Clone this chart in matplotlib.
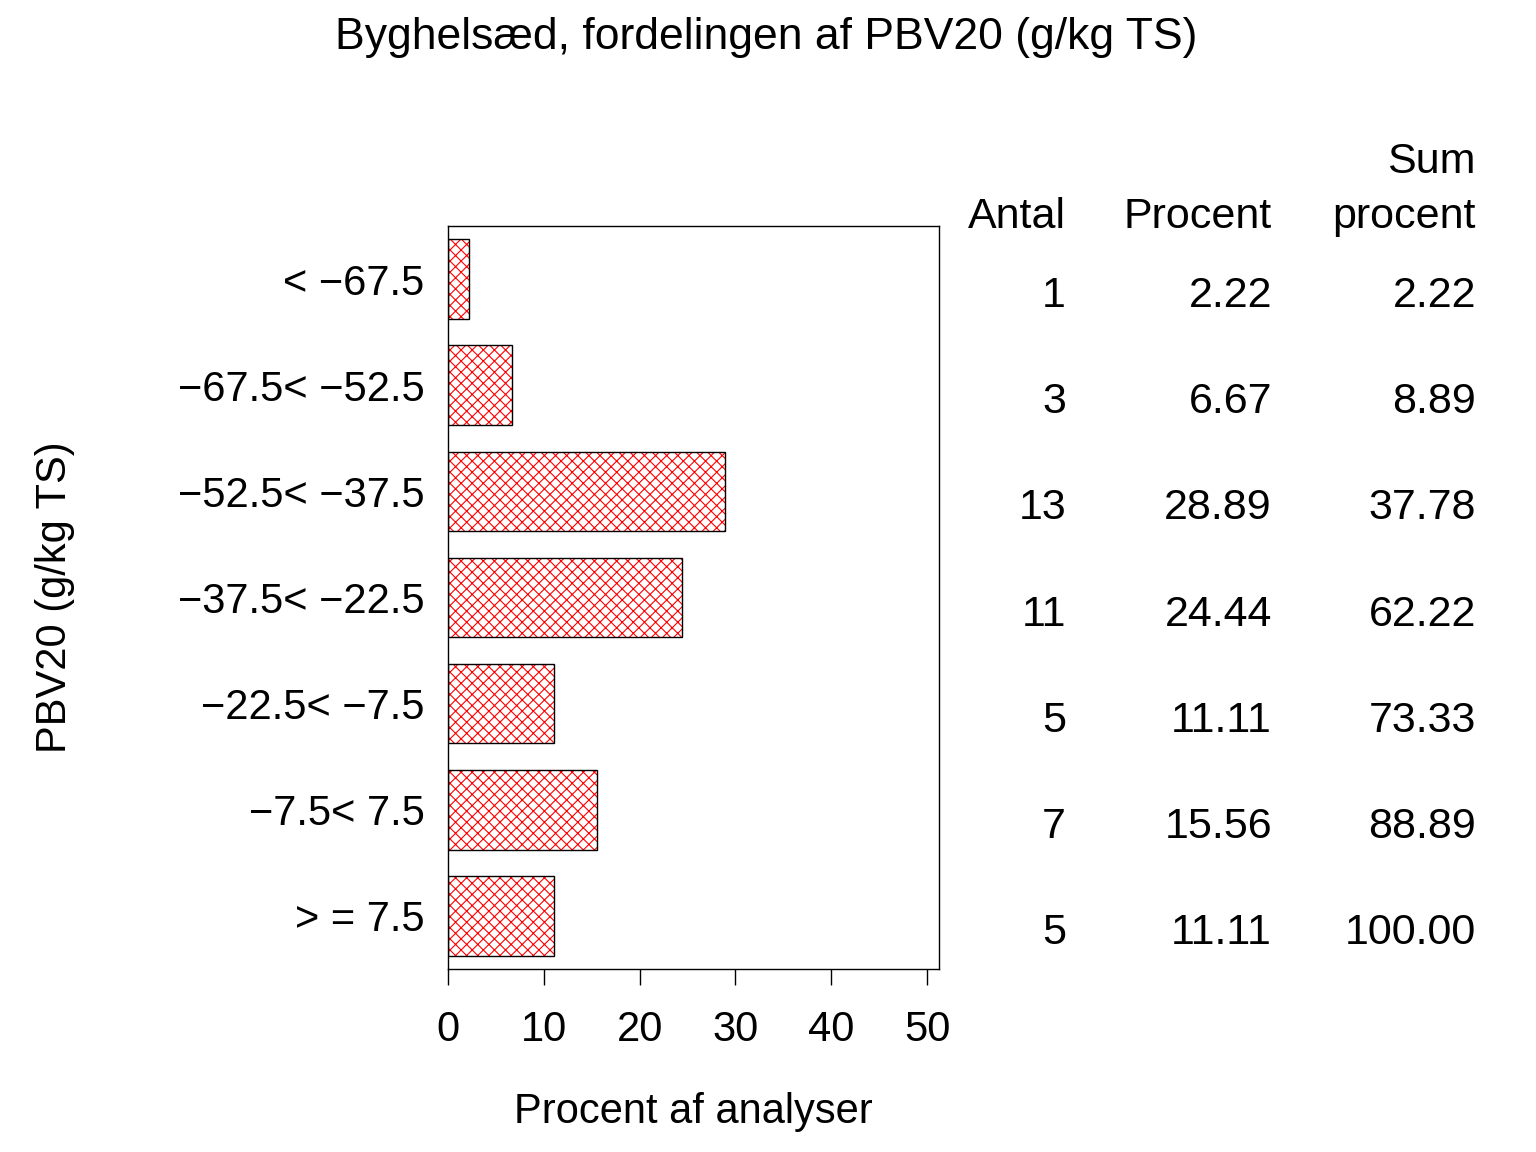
import matplotlib
matplotlib.use("Agg")
import matplotlib.pyplot as plt
from matplotlib.transforms import blended_transform_factory, offset_copy

plt.rcParams['font.family'] = ['Liberation Sans', 'DejaVu Sans']
plt.rcParams['hatch.linewidth'] = 0.8

title = "Byghelsæd, fordelingen af PBV20 (g/kg TS)"
categories = ["< \u221267.5", "\u221267.5< \u221252.5", "\u221252.5< \u221237.5",
              "\u221237.5< \u221222.5", "\u221222.5< \u22127.5", "\u22127.5< 7.5", "> = 7.5"]
antal = [1, 3, 13, 11, 5, 7, 5]
procent = [2.22, 6.67, 28.89, 24.44, 11.11, 15.56, 11.11]
sum_procent = [2.22, 8.89, 37.78, 62.22, 73.33, 88.89, 100.00]
x_ticks = [0, 10, 20, 30, 40, 50]
col_headers_top = ["", "", "Sum"]
col_headers = ["Antal", "Procent", "procent"]
xlabel = "Procent af analyser"
ylabel = "PBV20 (g/kg TS)"

W, H = 1536, 1152
fig = plt.figure(figsize=(W / 100, H / 100), dpi=100)
ax = fig.add_axes([448 / W, 1 - 969 / H, (939 - 448) / W, (969 - 226) / H])

pos = list(range(len(categories)))
ax.barh(pos, procent, height=0.75, color='white', edgecolor='red', hatch='xxx', linewidth=0)
ax.barh(pos, procent, height=0.75, fill=False, edgecolor='black', linewidth=1.0)

ax.set_ylim(6.5, -0.5)
ax.set_xlim(0, 51.25)
ax.set_xticks(x_ticks)
ax.set_xticklabels([str(t) for t in x_ticks], fontsize=30)
ax.set_yticks(pos)
ax.set_yticklabels(categories, fontsize=30, va='center_baseline')
ax.tick_params(axis='y', length=0, pad=17)
ax.tick_params(axis='x', length=11.5, width=1.0, pad=18, direction='out')
for s in ax.spines.values():
    s.set_linewidth(1.0)

ax.set_xlabel(xlabel, fontsize=30)
ax.xaxis.set_label_coords((693 - 448) / (939 - 448), -(1112 - 969) / (969 - 226))
ax.xaxis.label.set_va('center')
ax.set_ylabel(ylabel, fontsize=30)
ax.yaxis.set_label_coords(-(448 - 55) / (939 - 448), 0.5)
ax.yaxis.label.set_va('center')

fig.text(0.5 * (330 + 1203) / W, 1 - 38 / H, title, fontsize=32, ha='center', va='center')

# table
trans = blended_transform_factory(fig.transFigure, ax.transData)
trans_val = offset_copy(trans, fig=fig, x=0, y=-28, units='dots')
col_right = [1066 / W, 1272 / W, 1476 / W]
fmt = [lambda v: f"{v:d}", lambda v: f"{v:.2f}", lambda v: f"{v:.2f}"]
cols = [antal, procent, sum_procent]
for cx, f, col in zip(col_right, fmt, cols):
    for p, v in zip(pos, col):
        fig.text(cx, p, f(v), transform=trans_val, fontsize=31, ha='right', va='baseline')
for cx, top, hdr in zip(col_right, col_headers_top, col_headers):
    fig.text(cx, 1 - 228 / H, hdr, fontsize=31, ha='right', va='baseline')
    if top:
        fig.text(cx, 1 - 173 / H, top, fontsize=31, ha='right', va='baseline')

fig.savefig("out.png", dpi=100)
